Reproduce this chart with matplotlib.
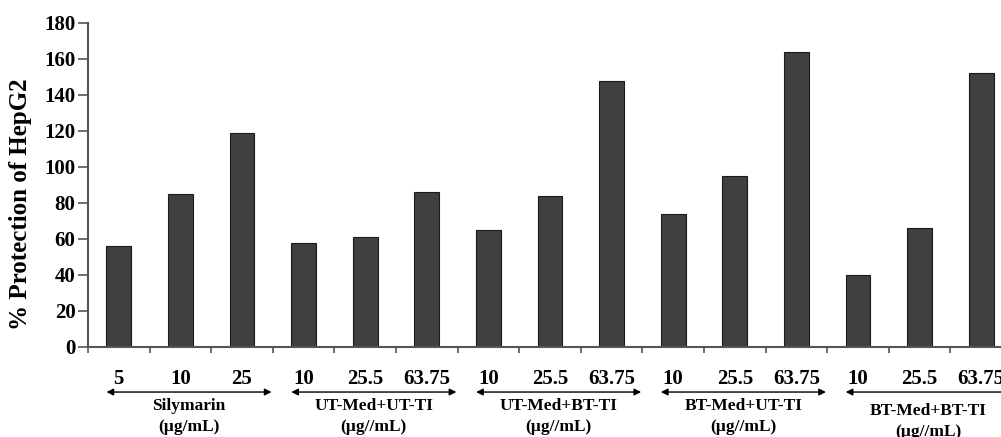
import matplotlib
matplotlib.use("Agg")
import matplotlib.pyplot as plt
import numpy as np

groups = ["Silymarin", "UT-Med+UT-TI", "UT-Med+BT-TI", "BT-Med+UT-TI", "BT-Med+BT-TI"]
units = ["(µg/mL)", "(µg//mL)", "(µg//mL)", "(µg//mL)", "(µg//mL)"]
dose_labels = ["5", "10", "25",
               "10", "25.5", "63.75",
               "10", "25.5", "63.75",
               "10", "25.5", "63.75",
               "10", "25.5", "63.75"]
protection = [56, 85, 119,
              58, 61, 86,
              65, 84, 148,
              74, 95, 164,
              40, 66, 152]

plt.rcParams['font.family'] = ['Liberation Serif', 'DejaVu Serif']
plt.rcParams['font.weight'] = 'bold'

fig = plt.figure(figsize=(10.01, 4.37), dpi=100)
ax = fig.add_axes([88/1001, 1-347/437, 924/1001, (347-23)/437])
x = np.arange(len(protection))
ax.bar(x, protection, width=0.4, color='#404040', edgecolor='#1a1a1a', linewidth=0.8)
ax.set_xlim(-0.5, len(protection) - 0.5)
ax.set_ylim(0, 180)
ax.set_yticks(np.arange(0, 181, 20))
ax.tick_params(axis='y', labelsize=15, direction='out', length=7, pad=2, color='#555555', width=1.2)
for lab in ax.get_yticklabels():
    lab.set_fontweight('bold')
ax.set_xticks(np.arange(-0.5, len(protection), 1))
ax.set_xticklabels([])
ax.tick_params(axis='x', direction='out', length=4.5, color='#555555', width=1.2)
for s in ['top', 'right']:
    ax.spines[s].set_visible(False)
for s in ['left', 'bottom']:
    ax.spines[s].set_color('#555555')
    ax.spines[s].set_linewidth(1.5)
ax.set_ylabel('% Protection of HepG2', fontsize=18, fontweight='bold')
ax.yaxis.set_label_coords(-0.061, 0.44)

trans = ax.get_xaxis_transform()
for i, lab in enumerate(dose_labels):
    ax.text(x[i], -0.099, lab, transform=trans, ha='center', va='center',
            fontsize=15, fontweight='bold', clip_on=False)
for g in range(len(groups)):
    x0 = 3*g - 0.2
    x1 = 3*g + 2.48
    ax.annotate('', xy=(x0, -0.139), xytext=(x1, -0.139), xycoords=trans, textcoords=trans,
                arrowprops=dict(arrowstyle='<|-|>', color='black', lw=1.0,
                                mutation_scale=10, shrinkA=0, shrinkB=0),
                annotation_clip=False)
    xm = (x0 + x1) / 2
    dy = 0.015 if g == 4 else 0
    ax.text(xm, -0.182 - dy, groups[g], transform=trans, ha='center', va='center',
            fontsize=12.5, fontweight='bold', clip_on=False)
    ax.text(xm, -0.247 - dy, units[g], transform=trans, ha='center', va='center',
            fontsize=12.5, fontweight='bold', clip_on=False)

fig.savefig('out.png', dpi=100)
